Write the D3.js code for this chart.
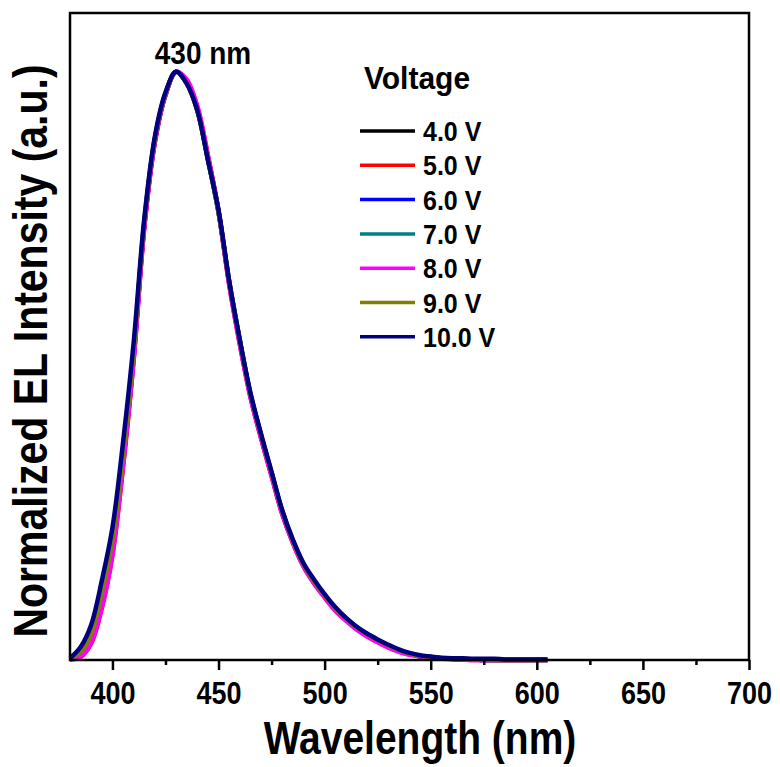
<!DOCTYPE html>
<html>
<head>
<meta charset="utf-8">
<script src="https://cdn.jsdelivr.net/npm/d3@7"></script>
<style>
  body { margin: 0; background: #fff; }
  text { font-family: 'Liberation Sans', Arial, sans-serif; font-weight: bold; fill: #000; }
</style>
</head>
<body>
<div class="chart"></div>
<script>
const wavelengths = [380, 385, 390, 395, 400, 405, 410, 415, 420, 425, 430, 435, 440, 445, 450, 455, 460, 465, 470, 475, 480, 485, 490, 495, 500, 505, 510, 515, 520, 525, 530, 535, 540, 545, 550, 555, 560, 565, 570, 575, 580, 585, 590, 595, 600, 605];

const voltages = ['4.0 V', '5.0 V', '6.0 V', '7.0 V', '8.0 V', '9.0 V', '10.0 V'];
const colors = ['#000000', '#ff0000', '#0000ff', '#008080', '#ff00ff', '#808000', '#000080'];

const v4 = [0.002, 0.012, 0.042, 0.11, 0.2, 0.345, 0.52, 0.74, 0.885, 0.962, 1.0, 0.982, 0.935, 0.852, 0.762, 0.643, 0.543, 0.452, 0.382, 0.317, 0.252, 0.202, 0.162, 0.133, 0.109, 0.087, 0.07, 0.055, 0.043, 0.033, 0.024, 0.016, 0.011, 0.007, 0.005, 0.003, 0.002, 0.001, 0.001, 0.0, 0.0, 0.0, 0.0, 0.0, 0.0, 0.0];
const v5 = [0.001, 0.005, 0.028, 0.088, 0.178, 0.328, 0.51, 0.735, 0.88, 0.96, 1.0, 0.985, 0.94, 0.857, 0.764, 0.64, 0.538, 0.448, 0.378, 0.313, 0.249, 0.2, 0.16, 0.131, 0.107, 0.085, 0.068, 0.053, 0.041, 0.031, 0.022, 0.015, 0.01, 0.006, 0.004, 0.003, 0.002, 0.001, 0.0, 0.0, 0.0, 0.0, 0.0, 0.0, 0.0, 0.0];
const v6 = [0.001, 0.01, 0.038, 0.1, 0.19, 0.335, 0.515, 0.738, 0.882, 0.961, 1.0, 0.983, 0.936, 0.854, 0.763, 0.642, 0.541, 0.45, 0.38, 0.315, 0.25, 0.201, 0.161, 0.132, 0.108, 0.086, 0.069, 0.054, 0.042, 0.032, 0.023, 0.015, 0.01, 0.006, 0.004, 0.003, 0.002, 0.001, 0.001, 0.0, 0.0, 0.0, 0.0, 0.0, 0.0, 0.0];
const v7 = [0.002, 0.013, 0.044, 0.112, 0.202, 0.347, 0.522, 0.742, 0.886, 0.962, 1.0, 0.981, 0.934, 0.851, 0.761, 0.644, 0.544, 0.453, 0.383, 0.318, 0.253, 0.203, 0.163, 0.134, 0.11, 0.088, 0.071, 0.056, 0.043, 0.033, 0.024, 0.016, 0.011, 0.007, 0.005, 0.003, 0.002, 0.001, 0.001, 0.0, 0.0, 0.0, 0.0, 0.0, 0.0, 0.0];
const v8 = [0.001, 0.006, 0.03, 0.09, 0.18, 0.33, 0.51, 0.735, 0.882, 0.962, 1.0, 0.987, 0.942, 0.858, 0.762, 0.638, 0.537, 0.447, 0.377, 0.312, 0.248, 0.199, 0.159, 0.13, 0.106, 0.084, 0.067, 0.052, 0.04, 0.03, 0.021, 0.014, 0.009, 0.006, 0.004, 0.002, 0.001, 0.001, 0.0, 0.0, 0.0, 0.0, 0.0, 0.0, 0.0, 0.0];
const v9 = [0.002, 0.014, 0.045, 0.115, 0.205, 0.35, 0.525, 0.745, 0.887, 0.963, 1.0, 0.98, 0.934, 0.851, 0.761, 0.644, 0.544, 0.453, 0.383, 0.318, 0.253, 0.203, 0.163, 0.134, 0.11, 0.088, 0.071, 0.056, 0.044, 0.034, 0.025, 0.017, 0.011, 0.007, 0.005, 0.003, 0.002, 0.001, 0.001, 0.001, 0.0, 0.0, 0.0, 0.0, 0.0, 0.0];
const v10 = [0.003, 0.022, 0.06, 0.135, 0.225, 0.37, 0.54, 0.75, 0.89, 0.965, 1.0, 0.98, 0.935, 0.85, 0.765, 0.645, 0.545, 0.455, 0.385, 0.32, 0.255, 0.205, 0.165, 0.137, 0.112, 0.09, 0.072, 0.057, 0.045, 0.035, 0.026, 0.018, 0.012, 0.008, 0.006, 0.004, 0.003, 0.003, 0.002, 0.002, 0.002, 0.001, 0.001, 0.001, 0.001, 0.001];

const seriesValues = [v4, v5, v6, v7, v8, v9, v10];

const xTicks = [400, 450, 500, 550, 600, 650, 700];
const xMinorTicks = [425, 475, 525, 575, 625, 675];

const width = 780;
const height = 767;
const margin = { top: 13, right: 31, bottom: 107, left: 70 };
const stretch = 1.18; // the source font is drawn a little taller than plain Arial

const svg = d3.select('.chart').append('svg')
  .attr('width', width)
  .attr('height', height);

const x = d3.scaleLinear().domain([380, 700]).range([margin.left, width - margin.right]);
const y = d3.scaleLinear().domain([0, 1.1]).range([height - margin.bottom, margin.top]);

const line = d3.line()
  .x(d => x(d[0]))
  .y(d => y(d[1]))
  .curve(d3.curveCatmullRom.alpha(0.5));

// curves, 10 V drawn last so it sits on top
svg.append('g')
  .selectAll('path')
  .data(seriesValues)
  .enter()
  .append('path')
  .attr('d', vals => line(wavelengths.map((w, i) => [w, vals[i]])))
  .attr('fill', 'none')
  .attr('stroke', (d, i) => colors[i])
  .attr('stroke-width', 4.5)
  .attr('stroke-linejoin', 'round');

// bottom axis
const xAxis = svg.append('g')
  .attr('transform', `translate(0,${height - margin.bottom})`)
  .call(d3.axisBottom(x).tickValues(xTicks).tickSize(10).tickFormat(d3.format('d')));
xAxis.select('.domain').remove();
xAxis.selectAll('.tick line').attr('stroke', '#000').attr('stroke-width', 2.5);
xAxis.selectAll('.tick text')
  .attr('y', null)
  .attr('dy', null)
  .attr('transform', `translate(0,44) scale(1,${stretch})`)
  .style('font-size', '27px')
  .style('font-family', "'Liberation Sans', Arial, sans-serif")
  .style('font-weight', 'bold');

svg.append('g')
  .attr('transform', `translate(0,${height - margin.bottom})`)
  .call(d3.axisBottom(x).tickValues(xMinorTicks).tickSize(5).tickFormat(''))
  .call(g => g.select('.domain').remove())
  .selectAll('.tick line').attr('stroke', '#000').attr('stroke-width', 2.5);

// frame
svg.append('rect')
  .attr('x', margin.left)
  .attr('y', margin.top)
  .attr('width', width - margin.left - margin.right)
  .attr('height', height - margin.bottom - margin.top)
  .attr('fill', 'none')
  .attr('stroke', '#000')
  .attr('stroke-width', 2.5);

// axis titles
svg.append('text')
  .attr('transform', `translate(420,754) scale(1,${stretch})`)
  .attr('text-anchor', 'middle')
  .style('font-size', '39px')
  .text('Wavelength (nm)');

svg.append('text')
  .attr('transform', `translate(47,351) rotate(-90) scale(1,${stretch})`)
  .attr('text-anchor', 'middle')
  .style('font-size', '41px')
  .text('Normalized EL Intensity (a.u.)');

// peak label
svg.append('text')
  .attr('transform', `translate(203,64) scale(1,1.1)`)
  .attr('text-anchor', 'middle')
  .style('font-size', '28px')
  .text('430 nm');

// legend
const legend = svg.append('g').attr('transform', 'translate(360,131)');

legend.append('text')
  .attr('transform', `translate(4,-42) scale(1,1.05)`)
  .style('font-size', '30px')
  .text('Voltage');

const rows = legend.selectAll('.row')
  .data(voltages)
  .enter()
  .append('g')
  .attr('class', 'row')
  .attr('transform', (d, i) => `translate(0,${i * 34.3})`);

rows.append('line')
  .attr('x1', 0)
  .attr('x2', 55)
  .attr('stroke', (d, i) => colors[i])
  .attr('stroke-width', 3.5);

rows.append('text')
  .attr('transform', `translate(63,10) scale(1,1.1)`)
  .style('font-size', '25px')
  .text(d => d);
</script>
</body>
</html>
